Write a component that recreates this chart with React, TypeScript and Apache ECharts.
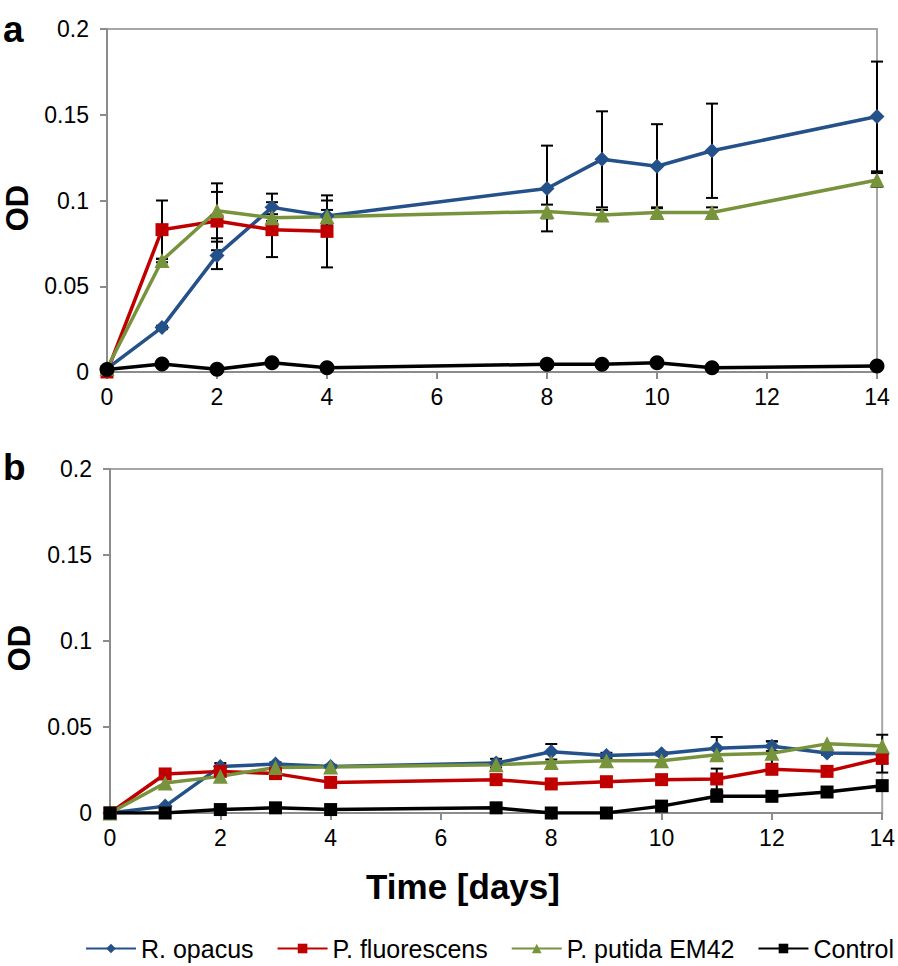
import React, { useEffect, useRef } from "react";
import * as echarts from "echarts";

// ---------- Panel a ----------
const aDays = [0, 1, 2, 3, 4, 8, 9, 10, 11, 14];
const aOpacus = [0.002, 0.026, 0.068, 0.096, 0.091, 0.107, 0.124, 0.120, 0.129, 0.149];
const aOpacusErr = [0, 0.001, 0.008, 0.008, 0.009, 0.025, 0.028, 0.0245, 0.0275, 0.032];
const aPutida = [0.002, 0.065, 0.094, 0.090, 0.0905, 0.0936, 0.0915, 0.093, 0.093, 0.112];
const aPutidaErr = [0, 0.001, 0.016, 0.002, 0.004, 0.004, 0.003, 0.003, 0.003, 0.004];
const aFluoDays = [0, 1, 2, 3, 4];
const aFluo = [0.0, 0.083, 0.088, 0.083, 0.082];
const aFluoErr = [0, 0.017, 0.017, 0.016, 0.021];
const aControl = [0.0015, 0.0047, 0.0016, 0.0054, 0.0025, 0.0045, 0.0045, 0.0054, 0.0025, 0.0035];

// ---------- Panel b ----------
const bDays = [0, 1, 2, 3, 4, 7, 8, 9, 10, 11, 12, 13, 14];
const bOpacus = [0, 0.004, 0.027, 0.0285, 0.027, 0.029, 0.0356, 0.0335, 0.0345, 0.0377, 0.0388, 0.0349, 0.0345];
const bOpacusErr = [0, 0, 0.002, 0.001, 0.001, 0.0025, 0.0045, 0.0015, 0.001, 0.0065, 0.0028, 0.001, 0.011];
const bFluo = [0, 0.0227, 0.0242, 0.0229, 0.0178, 0.0194, 0.0169, 0.0182, 0.0194, 0.0198, 0.0254, 0.0242, 0.0318];
const bFluoErr = [0, 0, 0, 0, 0, 0, 0, 0, 0, 0.006, 0.001, 0.001, 0.003];
const bPutida = [0, 0.0174, 0.0213, 0.0265, 0.0268, 0.0281, 0.0294, 0.0304, 0.0304, 0.0339, 0.0347, 0.0402, 0.0389];
const bPutidaErr = [0, 0, 0, 0, 0, 0, 0, 0, 0, 0, 0.007, 0, 0];
const bControl = [0, 0, 0.002, 0.003, 0.002, 0.003, 0, 0, 0.004, 0.0097, 0.0097, 0.0122, 0.0159];

const seriesNames = ["R. opacus", "P. fluorescens", "P. putida EM42", "Control"];
const xTicks = { min: 0, max: 14, interval: 2 };
const yTicks = { min: 0, max: 0.2, interval: 0.05 };

const COLORS = {
  "R. opacus": "#24518a",
  "P. fluorescens": "#c00000",
  "P. putida EM42": "#77933c",
  Control: "#000000",
};
const FONT = "'Liberation Sans', Arial, sans-serif";
const AXIS_GRAY = "#8c8c8c";

function lineSeries(name: string, xs: number[], ys: number[], idx: number, symbol: string, size: number) {
  return {
    name,
    type: "line",
    xAxisIndex: idx,
    yAxisIndex: idx,
    data: xs.map((x, i) => [x, ys[i]]),
    symbol,
    symbolSize: size,
    showAllSymbol: true,
    lineStyle: { color: (COLORS as any)[name], width: 3.5 },
    itemStyle: { color: (COLORS as any)[name] },
    z: 3,
    silent: true,
  };
}

function errSeries(xs: number[], ys: number[], es: number[], idx: number) {
  const data = xs.map((x, i) => [x, ys[i], es[i]]).filter((d) => d[2] > 0);
  return {
    type: "custom",
    xAxisIndex: idx,
    yAxisIndex: idx,
    z: 2,
    silent: true,
    clip: false,
    encode: { x: 0, y: 1 },
    data,
    renderItem: (_params: any, api: any) => {
      const x = api.value(0);
      const y = api.value(1);
      const e = api.value(2);
      const top = api.coord([x, y + e]);
      const bot = api.coord([x, y - e]);
      const w = 6;
      const st = { stroke: "#000", lineWidth: 2 };
      return {
        type: "group",
        children: [
          { type: "line", shape: { x1: top[0], y1: top[1], x2: bot[0], y2: bot[1] }, style: st },
          { type: "line", shape: { x1: top[0] - w, y1: top[1], x2: top[0] + w, y2: top[1] }, style: st },
          { type: "line", shape: { x1: bot[0] - w, y1: bot[1], x2: bot[0] + w, y2: bot[1] }, style: st },
        ],
      };
    },
  };
}

function xAxis(idx: number) {
  return {
    type: "value",
    gridIndex: idx,
    ...xTicks,
    axisLine: { show: true, lineStyle: { color: AXIS_GRAY, width: 2 } },
    axisTick: { show: true, length: 7, inside: false, lineStyle: { color: AXIS_GRAY, width: 2 } },
    splitLine: { show: false },
    axisLabel: { color: "#000", fontSize: 23, fontFamily: FONT, margin: 13 },
  };
}

function yAxis(idx: number) {
  return {
    type: "value",
    gridIndex: idx,
    ...yTicks,
    axisLine: { show: true, lineStyle: { color: AXIS_GRAY, width: 2 } },
    axisTick: { show: true, length: 7, inside: false, lineStyle: { color: AXIS_GRAY, width: 2 } },
    splitLine: { show: false },
    axisLabel: { color: "#000", fontSize: 23, fontFamily: FONT, margin: 18 },
  };
}

export default function App() {
  const ref = useRef<HTMLDivElement>(null);
  useEffect(() => {
    document.body.style.margin = "0";
    const chart = echarts.init(ref.current!, undefined, { renderer: "svg" });
    const option = {
      animation: false,
      backgroundColor: "#ffffff",
      grid: [
        { left: 107, top: 29, width: 770, height: 343, show: true, borderColor: "#a6a6a6", borderWidth: 2, backgroundColor: "transparent" },
        { left: 110, top: 469, width: 773, height: 344, show: true, borderColor: "#a6a6a6", borderWidth: 2, backgroundColor: "transparent" },
      ],
      xAxis: [xAxis(0), xAxis(1)],
      yAxis: [yAxis(0), yAxis(1)],
      legend: {
        data: seriesNames,
        left: 85,
        top: 936,
        width: 813,
        padding: 0,
        itemWidth: 50,
        itemHeight: 12,
        itemGap: 23,
        textStyle: { fontSize: 25, fontFamily: FONT, color: "#000" },
        selectedMode: false,
      },
      graphic: [
        { type: "text", x: 3, y: 29, style: { text: "a", font: `bold 37px ${FONT}`, fill: "#000", verticalAlign: "middle", align: "left" } },
        { type: "text", x: 3, y: 467, style: { text: "b", font: `bold 37px ${FONT}`, fill: "#000", verticalAlign: "middle", align: "left" } },
        { type: "text", x: 17, y: 208, rotation: Math.PI / 2, style: { text: "OD", font: `bold 31px ${FONT}`, fill: "#000", verticalAlign: "middle", align: "center" } },
        { type: "text", x: 19, y: 648, rotation: Math.PI / 2, style: { text: "OD", font: `bold 31px ${FONT}`, fill: "#000", verticalAlign: "middle", align: "center" } },
        { type: "text", x: 463, y: 886, style: { text: "Time [days]", font: `bold 35px ${FONT}`, fill: "#000", verticalAlign: "middle", align: "center" } },
      ],
      series: [
        // panel b first so legend icons use its markers (square for Control)
        lineSeries("R. opacus", bDays, bOpacus, 1, "diamond", 15),
        lineSeries("P. fluorescens", bDays, bFluo, 1, "rect", 13),
        lineSeries("P. putida EM42", bDays, bPutida, 1, "triangle", 15),
        lineSeries("Control", bDays, bControl, 1, "rect", 13),
        errSeries(bDays, bOpacus, bOpacusErr, 1),
        errSeries(bDays, bFluo, bFluoErr, 1),
        errSeries(bDays, bPutida, bPutidaErr, 1),
        // panel a
        lineSeries("R. opacus", aDays, aOpacus, 0, "diamond", 15),
        lineSeries("P. fluorescens", aFluoDays, aFluo, 0, "rect", 13),
        lineSeries("P. putida EM42", aDays, aPutida, 0, "triangle", 15),
        lineSeries("Control", aDays, aControl, 0, "circle", 15),
        errSeries(aDays, aOpacus, aOpacusErr, 0),
        errSeries(aFluoDays, aFluo, aFluoErr, 0),
        errSeries(aDays, aPutida, aPutidaErr, 0),
      ],
    };
    chart.setOption(option as any);
    return () => chart.dispose();
  }, []);
  return <div ref={ref} style={{ width: 898, height: 966 }} />;
}
